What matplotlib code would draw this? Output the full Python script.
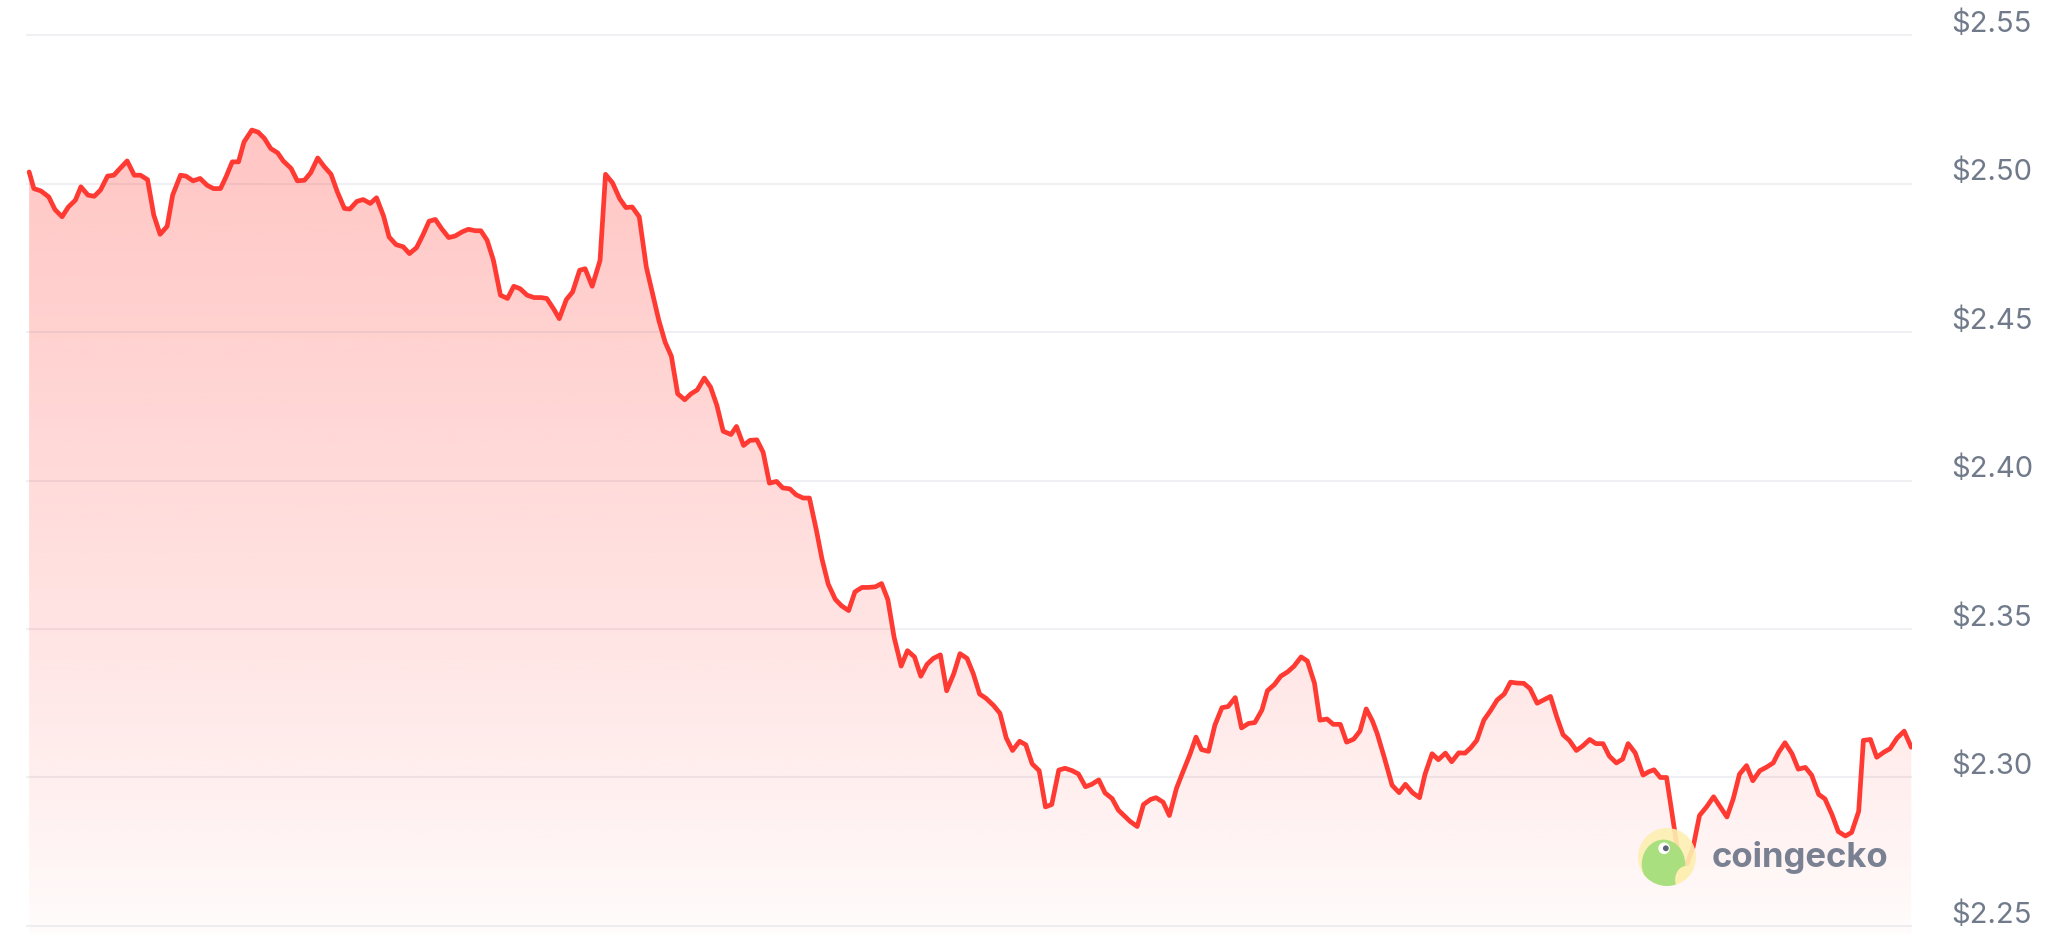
"""Price chart in the CoinGecko style: red line, fading fill, prices on the right."""

import matplotlib
matplotlib.use('Agg')
import matplotlib.pyplot as plt
import numpy as np
from matplotlib.patches import Circle, Ellipse, PathPatch
from matplotlib.transforms import blended_transform_factory, offset_copy

# hours since start of the window, and price in USD
hours = [
    0.00, 0.06, 0.15, 0.25, 0.33, 0.42, 0.50, 0.59, 0.66, 0.75, 0.83, 0.91, 1.00, 1.08,
    1.16, 1.25, 1.34, 1.42, 1.51, 1.59, 1.67, 1.76, 1.83, 1.93, 2.00, 2.09, 2.18, 2.27,
    2.35, 2.44, 2.51, 2.59, 2.67, 2.74, 2.84, 2.92, 3.00, 3.08, 3.17, 3.24, 3.34,
    3.42, 3.51, 3.59, 3.68, 3.76, 3.85, 3.93, 4.02, 4.09, 4.18, 4.26, 4.35, 4.43, 4.52,
    4.59, 4.68, 4.77, 4.85, 4.94, 5.02, 5.10, 5.18, 5.26, 5.35, 5.43, 5.52, 5.60, 5.69,
    5.76, 5.84, 5.92, 6.01, 6.10, 6.18, 6.26, 6.35, 6.44, 6.53, 6.60, 6.69, 6.76, 6.85,
    6.93, 7.02,
    7.09, 7.18, 7.28, 7.35, 7.44, 7.53, 7.61, 7.69, 7.78, 7.87, 7.94, 8.03, 8.11, 8.19,
    8.27, 8.36, 8.44, 8.52, 8.61, 8.69, 8.77, 8.85, 8.95, 9.02, 9.11, 9.19, 9.28, 9.36,
    9.44, 9.53, 9.61, 9.70, 9.78, 9.87, 9.95, 10.04, 10.11, 10.19,
    10.28, 10.36, 10.45, 10.53, 10.62, 10.70, 10.79, 10.87, 10.95, 11.03, 11.12, 11.20,
    11.29, 11.37, 11.45, 11.53, 11.62, 11.70, 11.79, 11.87, 11.96, 12.04, 12.12, 12.20,
    12.30, 12.38, 12.46, 12.54, 12.63, 12.71, 12.79, 12.88, 12.96, 13.04, 13.13, 13.21,
    13.30, 13.38, 13.47, 13.55, 13.64, 13.72, 13.81, 13.89,
    14.04, 14.13, 14.21, 14.30, 14.37, 14.46, 14.54, 14.63, 14.71, 14.80, 14.88, 14.95,
    15.04, 15.12, 15.21, 15.29, 15.38, 15.46, 15.55, 15.63, 15.72, 15.79, 15.88, 15.96,
    16.05, 16.13, 16.22, 16.30, 16.39, 16.46, 16.55, 16.63, 16.72, 16.80, 16.89, 16.97,
    17.05, 17.13, 17.19, 17.28, 17.38, 17.47, 17.55, 17.64, 17.73, 17.80, 17.89, 17.97,
    18.06, 18.14, 18.23, 18.31, 18.38, 18.46, 18.55, 18.64, 18.72, 18.81, 18.89, 18.97,
    19.06, 19.14, 19.23, 19.31, 19.40, 19.48, 19.56, 19.64, 19.73, 19.81, 19.90, 19.98,
    20.07, 20.15, 20.24, 20.32, 20.39, 20.48,
    20.58, 20.65, 20.72, 20.80, 20.88, 21.05, 21.14, 21.22, 21.30, 21.39, 21.48, 21.56,
    21.65, 21.73, 21.81, 21.90, 21.98, 22.07, 22.15, 22.24, 22.31, 22.39, 22.48, 22.56,
    22.65, 22.73, 22.82, 22.90, 22.99, 23.07, 23.16, 23.24, 23.33, 23.39, 23.48, 23.56,
    23.65, 23.73, 23.82, 23.91, 24.00,
]
price = [
    2.5039, 2.4983, 2.4975, 2.4955, 2.4912, 2.4888, 2.4921, 2.4944, 2.4989, 2.4961, 2.4957,
    2.4978, 2.5025, 2.5028, 2.5051, 2.5076, 2.5028, 2.5028, 2.5013, 2.4893, 2.4829, 2.4856,
    2.4961, 2.5028, 2.5025, 2.5009, 2.5017, 2.4994, 2.4983, 2.4983, 2.5022, 2.5073, 2.5073,
    2.5140, 2.5180, 2.5173, 2.5152, 2.5118, 2.5103, 2.5076, 2.5051,
    2.5009, 2.5011, 2.5036, 2.5086, 2.5058, 2.5031, 2.4972, 2.4916, 2.4914, 2.4940, 2.4946,
    2.4933, 2.4952, 2.4890, 2.4820, 2.4794, 2.4787, 2.4764, 2.4784, 2.4826, 2.4873, 2.4879,
    2.4848, 2.4818, 2.4823, 2.4837, 2.4846, 2.4841, 2.4841, 2.4809, 2.4742, 2.4624, 2.4613,
    2.4654, 2.4646, 2.4624, 2.4616, 2.4616, 2.4613, 2.4577, 2.4545, 2.4609, 2.4635, 2.4708,
    2.4713, 2.4654, 2.4741, 2.5031, 2.5002, 2.4949, 2.4919, 2.4921, 2.4888, 2.4719, 2.4640,
    2.4539, 2.4466, 2.4418, 2.4292, 2.4272, 2.4292, 2.4305, 2.4345, 2.4314, 2.4253, 2.4166,
    2.4155, 2.4182, 2.4118, 2.4135, 2.4137, 2.4095, 2.3991, 2.3997, 2.3975, 2.3972, 2.3952,
    2.3941, 2.3941, 2.3831, 2.3736, 2.3651,
    2.3600, 2.3578, 2.3562, 2.3625, 2.3640, 2.3640, 2.3642, 2.3653, 2.3599, 2.3472, 2.3375,
    2.3427, 2.3406, 2.3341, 2.3381, 2.3401, 2.3413, 2.3292, 2.3349, 2.3417, 2.3401, 2.3349,
    2.3281, 2.3267, 2.3242, 2.3216, 2.3133, 2.3091, 2.3122, 2.3110, 2.3046, 2.3023, 2.2901,
    2.2909, 2.3025, 2.3031, 2.3023, 2.3012, 2.2969, 2.2977, 2.2992, 2.2948, 2.2929, 2.2890,
    2.2852, 2.2835, 2.2909, 2.2926, 2.2932, 2.2917, 2.2872, 2.2963, 2.3017, 2.3076, 2.3136,
    2.3094, 2.3088, 2.3176, 2.3235, 2.3239, 2.3269, 2.3167, 2.3182, 2.3185, 2.3227, 2.3292,
    2.3313, 2.3341, 2.3356, 2.3375, 2.3406, 2.3392, 2.3318, 2.3193, 2.3197, 2.3179, 2.3179,
    2.3119, 2.3129, 2.3156, 2.3231, 2.3190, 2.3148, 2.3068, 2.2974, 2.2949, 2.2977, 2.2949,
    2.2932, 2.3011, 2.3080, 2.3060, 2.3082, 2.3053, 2.3083, 2.3082, 2.3099, 2.3125, 2.3193,
    2.3227, 2.3261, 2.3281, 2.3321, 2.3318, 2.3317, 2.3299, 2.3250, 2.3261, 2.3273, 2.3204,
    2.3144, 2.3125, 2.3091, 2.3106, 2.3128, 2.3114, 2.3114, 2.3072, 2.3049, 2.3062, 2.3114,
    2.3083,
    2.3008, 2.3019, 2.3026, 2.3000, 2.3000, 2.2705, 2.2708, 2.2767, 2.2872, 2.2901, 2.2935,
    2.2903, 2.2867, 2.2928, 2.3011, 2.3040, 2.2989, 2.3023, 2.3034, 2.3049, 2.3085, 2.3117,
    2.3080, 2.3028, 2.3034, 2.3008, 2.2943, 2.2928, 2.2875, 2.2818, 2.2803, 2.2815, 2.2886,
    2.3125, 2.3128, 2.3068, 2.3085, 2.3097, 2.3133, 2.3156, 2.3102,
]

tick_values = [2.25, 2.30, 2.35, 2.40, 2.45, 2.50, 2.55]
tick_labels = ['$2.25', '$2.30', '$2.35', '$2.40', '$2.45', '$2.50', '$2.55']

RED = '#ff3a33'
GRID = '#eef0f3'
LABEL = '#707a8a'

plt.rcParams['font.family'] = ['Inter', 'DejaVu Sans']

fig = plt.figure(figsize=(20.62, 9.34), dpi=100)
ax = fig.add_axes([0.01261, 0.0, 0.91465, 0.9679])
ymin, ymax = 2.2473, 2.5517
ax.set_xlim(-0.04, 24.01)
ax.set_ylim(ymin, ymax)
ax.axis('off')

for v in tick_values:
    ax.axhline(v, color=GRID, lw=1.5, zorder=1)

# vertical red gradient, clipped to the area under the line
top = max(price)
t = np.linspace(0, 1, 256)[:, None]
grad = np.zeros((256, 1, 4))
grad[..., 0] = 1.0
grad[..., 1] = 58 / 255
grad[..., 2] = 51 / 255
grad[..., 3] = 0.015 + 0.275 * t ** 0.85
im = ax.imshow(grad, extent=[hours[0], hours[-1], ymin, top], origin='lower',
               aspect='auto', interpolation='bilinear', zorder=2)
fill = ax.fill_between(hours, price, ymin, color='none', lw=0)
clip = PathPatch(fill.get_paths()[0], transform=ax.transData, fc='none', ec='none')
ax.add_patch(clip)
im.set_clip_path(clip)

ax.plot(hours, price, color=RED, lw=3.4, solid_joinstyle='round', solid_capstyle='round',
        zorder=3)

trans = offset_copy(blended_transform_factory(ax.transAxes, ax.transData), fig=fig, y=8, units='points')
for v, lab in zip(tick_values, tick_labels):
    ax.text(1.0207, v, lab.replace('$', '\\$'), transform=trans, ha='left', va='center',
            fontsize=21, color=LABEL, clip_on=False)

# watermark
lax = fig.add_axes([1638 / 2062, 48 / 934, 58 / 2062, 58 / 934])
lax.set_xlim(-1, 1)
lax.set_ylim(-1, 1)
lax.set_aspect('equal')
lax.axis('off')
ring = Circle((0, 0), 1, fc='#fdefb2', ec='none', alpha=0.9)
lax.add_patch(ring)
body = Ellipse((-0.12, -0.25), 1.5, 1.7, fc='#a6df7c', ec='none', alpha=0.95)
lax.add_patch(body)
body.set_clip_path(ring)
notch = Ellipse((0.68, -0.78), 0.8, 0.95, fc='#fdefb2', ec='none')
lax.add_patch(notch)
notch.set_clip_path(ring)
lax.add_patch(Circle((-0.1, 0.3), 0.2, fc='white', ec='none'))
lax.add_patch(Circle((-0.04, 0.3), 0.1, fc='#5b6474', ec='none'))

fig.text(1712 / 2062, 1 - 858 / 934, 'coingecko', ha='left', va='center', fontsize=25,
         fontweight='bold', color='#6b7487', alpha=0.9)

fig.savefig('out.png', dpi=100, facecolor='white')
